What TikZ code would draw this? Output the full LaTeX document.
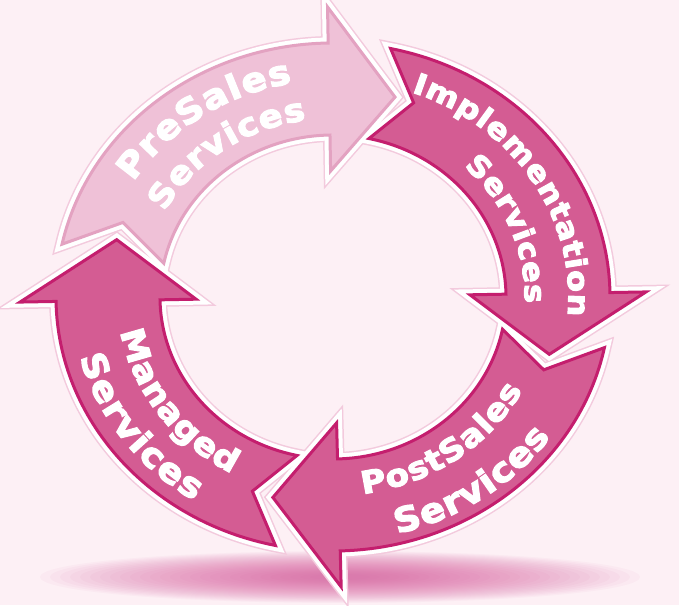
\documentclass[tikz,border=0pt]{standalone}
\usepackage{fontspec}
\setsansfont{DejaVu Sans}
\newfontfamily\lblfont{DejaVu Sans}[UprightFeatures={FakeBold=3.5,FakeStretch=1.1},BoldFeatures={FakeBold=3.5,FakeStretch=1.1}]
\usepackage{tikz}
\usetikzlibrary{decorations.text}
\definecolor{bg}{HTML}{FDF0F5}
\definecolor{dark}{HTML}{D45C93}
\definecolor{light}{HTML}{EFC1D7}
\definecolor{rim}{HTML}{C41E6E}
\definecolor{lightrim}{HTML}{E3A2C1}
\definecolor{glow}{HTML}{F3CADD}
\definecolor{floor}{HTML}{D8569A}
% ring radii (outer, middle, inner)
\def\outa{277}\def\outb{254}
\def\mida{225}\def\midb{208}
\def\ina{173}\def\inb{162}
\tikzset{
  arrowglow/.style={draw=glow,line width=14pt},
  arrowwhite/.style={draw=white,line width=11pt},
  arrowbody/.style 2 args={fill=#1,draw=#2,line width=3pt},
  floorlayer/.style={fill=floor,opacity=0.045},
}
% one curved arrow, head base at angle #1
\newcommand\arrowpath[1]{({\outa*cos(#1+77)},{\outb*sin(#1+77)})
  arc[start angle=#1+77,end angle=#1,x radius=\outa,y radius=\outb]
  -- ({(\outa+36)*cos(#1)},{(\outb+36)*sin(#1)})
  -- ({\mida*cos(#1-17)},{\midb*sin(#1-17)})
  -- ({(\ina-36)*cos(#1)},{(\inb-36)*sin(#1)})
  -- ({\ina*cos(#1)},{\inb*sin(#1)})
  arc[start angle=#1,end angle=#1+77,x radius=\ina,y radius=\inb]
  -- ({\mida*cos(#1+68)},{\midb*sin(#1+68)}) -- cycle}
% text on an arc: radii, from, to, size, text
\newcommand\ringtext[6]{\path[decorate,decoration={text along path,text align={fit to path},
  text={|\fontsize{#5}{#5}\selectfont\lblfont\bfseries\color{white}|#6}}]
  ({#1*cos(#3)},{#2*sin(#3)}) arc[start angle=#3,end angle=#4,x radius=#1,y radius=#2];}

\begin{document}
\begin{tikzpicture}[x=1pt,y=1pt,line join=miter]
\useasboundingbox (-333,-308) rectangle (346,297);
\fill[bg] (-333,-308) rectangle (346,297);
% soft floor shadow
\foreach \k in {0,...,27}
  \fill[floorlayer] (7,-280) ellipse ({30+10*\k} and {3+0.85*\k});
% outlines first, then the arrows
\foreach \h in {91,1,-88.5,-179} \path[arrowglow] \arrowpath{\h};
\foreach \h in {91,1,-88.5,-179} \path[arrowwhite] \arrowpath{\h};
\foreach \h/\fc/\rc in {91/light/lightrim,1/dark/rim,-88.5/dark/rim,-179/dark/rim}
  \path[arrowbody={\fc}{\rc}] \arrowpath{\h};
% labels
\ringtext{235.4}{217.2}{148}{100}{34}{PreSales}
\ringtext{191.7}{178.6}{151.5}{98}{32}{Services}
\ringtext{235.4}{217.2}{70.5}{-5}{29}{Implementation}
\ringtext{191.7}{178.6}{47}{-2}{29}{Services}
\ringtext{214.6}{198.8}{278}{332}{31}{PostSales}
\ringtext{265.6}{243.9}{284}{325}{34}{Services}
\ringtext{215.6}{199.7}{190}{242}{32}{Managed}
\ringtext{261.4}{240.2}{194.5}{238}{34}{Services}
\end{tikzpicture}
\end{document}
